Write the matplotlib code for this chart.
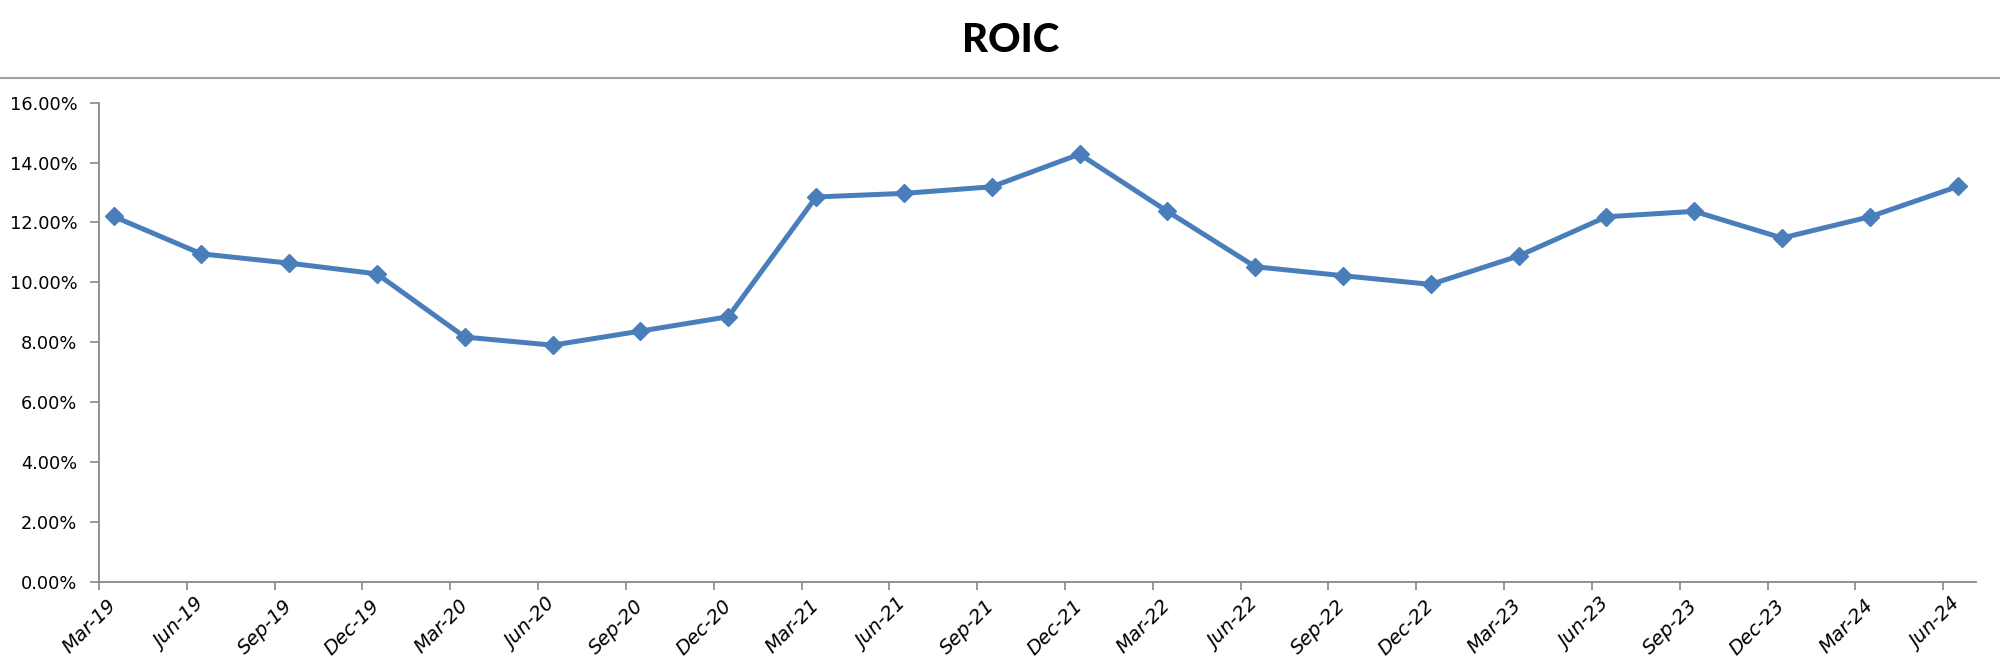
import matplotlib.pyplot as plt
from matplotlib.lines import Line2D
from matplotlib.ticker import FixedLocator, FuncFormatter
import numpy as np

# Quartale und ROIC-Werte (in %)
quarters = ['Mar-19', 'Jun-19', 'Sep-19', 'Dec-19', 'Mar-20', 'Jun-20', 'Sep-20', 'Dec-20',
            'Mar-21', 'Jun-21', 'Sep-21', 'Dec-21', 'Mar-22', 'Jun-22', 'Sep-22', 'Dec-22',
            'Mar-23', 'Jun-23', 'Sep-23', 'Dec-23', 'Mar-24', 'Jun-24']
roic = [12.20, 10.95, 10.64, 10.28, 8.17, 7.90, 8.37, 8.85,
        12.85, 12.97, 13.19, 14.28, 12.37, 10.52, 10.22, 9.93,
        10.88, 12.19, 12.37, 11.48, 12.19, 13.20]
y_ticks = [0, 2, 4, 6, 8, 10, 12, 14, 16]

x = np.arange(len(quarters))
grey = '#878787'

fig = plt.figure(figsize=(20, 6.71), dpi=100)
ax = fig.add_axes([0.0495, 0.1331, 0.9386, 0.7139])

ax.plot(x, roic, color='#4A7EBB', linewidth=3.6, marker='D', markersize=9,
        markerfacecolor='#4A7EBB', markeredgecolor='#4A7EBB', solid_joinstyle='round')

# Achsen
ax.set_xlim(-0.166, 21.21)
ax.set_ylim(0, 16)
ax.set_yticks(y_ticks)
ax.yaxis.set_major_formatter(FuncFormatter(lambda v, p: f'{v:.2f}%'))

ax.set_xticks(x)
ax.set_xticklabels(quarters, rotation=45, ha='right', va='center',
                   rotation_mode='anchor', fontstyle='italic', fontsize=14)
ax.tick_params(axis='x', which='major', length=0, pad=15)
ax.xaxis.set_minor_locator(FixedLocator(x - 0.166))
ax.tick_params(axis='x', which='minor', length=6, width=1.2, color=grey, direction='out')

ax.tick_params(axis='y', length=6.5, width=1.2, color=grey, labelsize=12.8, pad=9)

for s in ['top', 'right']:
    ax.spines[s].set_visible(False)
for s in ['left', 'bottom']:
    ax.spines[s].set_color(grey)
    ax.spines[s].set_linewidth(1.3)

# Titel und Trennlinie
fig.text(0.5055, 0.94, 'ROIC', ha='center', va='center', fontsize=29,
         fontweight='black', family='Lato')
fig.add_artist(Line2D([0, 1], [0.884, 0.884], transform=fig.transFigure,
                      color='#a0a0a0', linewidth=1.5))

plt.savefig('out.png', dpi=100)
